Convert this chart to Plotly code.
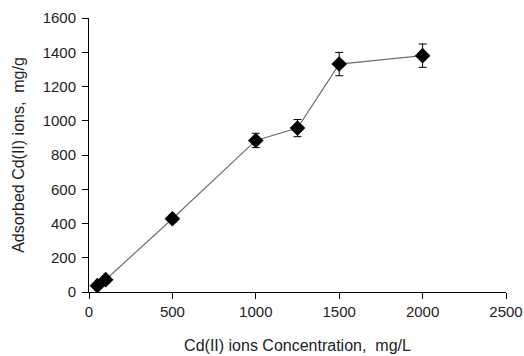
import plotly.graph_objects as go

# Cd(II) adsorption isotherm data
concentration = [50, 100, 500, 1000, 1250, 1500, 2000]
adsorbed = [37, 72, 428, 885, 957, 1331, 1380]
error = [6, 8, 20, 42, 50, 68, 68]

x_ticks = [0, 500, 1000, 1500, 2000, 2500]
y_ticks = [0, 200, 400, 600, 800, 1000, 1200, 1400, 1600]

fig = go.Figure()
fig.add_trace(go.Scatter(
    x=concentration, y=adsorbed,
    mode="lines+markers",
    line=dict(color="#6e6e6e", width=1.2),
    marker=dict(symbol="diamond", size=12, color="black"),
    error_y=dict(type="data", array=error, visible=True,
                 color="black", thickness=1, width=4),
    showlegend=False,
))

font_family = "Liberation Sans, Arial, sans-serif"
fig.update_layout(
    width=524, height=356,
    margin=dict(l=89, r=18, t=18, b=64),
    paper_bgcolor="white", plot_bgcolor="white",
    font=dict(family=font_family, size=15, color="#222"),
    xaxis=dict(
        range=[0, 2500], tickvals=x_ticks, showgrid=False, zeroline=False,
        showline=True, linecolor="black", linewidth=1,
        ticks="outside", ticklen=6, tickcolor="black",
        tickfont=dict(size=15), automargin=False,
        title=dict(text="Cd(II) ions Concentration,  mg/L", standoff=20,
                   font=dict(size=16)),
    ),
    yaxis=dict(
        range=[0, 1600], tickvals=y_ticks, showgrid=False, zeroline=False,
        showline=True, linecolor="black", linewidth=1,
        ticks="outside", ticklen=6, tickcolor="black",
        tickfont=dict(size=15), automargin=False, ticklabelstandoff=3,
        title=dict(text="Adsorbed Cd(II) ions,  mg/g", standoff=14,
                   font=dict(size=16)),
    ),
)

fig.write_html("out.html")
